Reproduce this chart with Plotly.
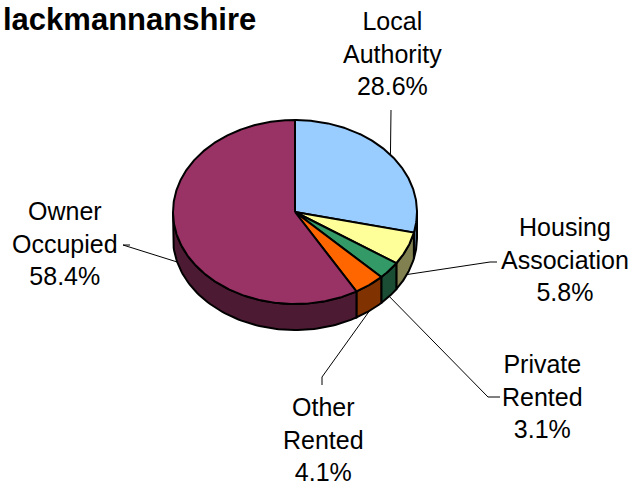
import numpy as np
import plotly.graph_objects as go

# ---- data ----
categories = ["Local Authority", "Housing Association", "Private Rented", "Other Rented", "Owner Occupied"]
label_lines = ["Local<br>Authority", "Housing<br>Association", "Private<br>Rented", "Other<br>Rented", "Owner<br>Occupied"]
values = [28.6, 5.8, 3.1, 4.1, 58.4]
title_text = "lackmannanshire"

# ---- styles / layout ----
top_colors = ["#99CCFF", "#FFFF99", "#339966", "#FF6600", "#993366"]
side_colors = ["#4D6680", "#808050", "#1A4D33", "#803300", "#4D1A33"]
W, H = 637, 489
CX, CY, RX, RY, DEPTH = 295, 212, 122, 92, 26
label_pos = [(392, 53), (565, 259), (542, 396), (323, 439), (65, 243)]
label_elbows = [[(391, 110)], [(497, 262), (490, 262)], [(500, 397), (488, 397)],
                [(322, 385), (322, 377)], [(130, 245), (123, 245)]]
FONT = "Liberation Sans, Arial, sans-serif"


def ell(a_deg, dy=0.0):
    a = np.radians(a_deg)
    return CX + RX * np.sin(a), CY - RY * np.cos(a) + dy


total = float(sum(values))
bounds = np.concatenate([[0.0], np.cumsum(values)]) / total * 360.0

fig = go.Figure()

# side walls (front half only: 90..270 deg)
for i in range(len(values)):
    a1, a2 = bounds[i], bounds[i + 1]
    s1, s2 = max(a1, 90.0), min(a2, 270.0)
    if s2 <= s1:
        continue
    ang = np.linspace(s1, s2, 80)
    xt, yt = ell(ang)
    xb, yb = ell(ang[::-1], DEPTH)
    xs = np.concatenate([xt, xb, xt[:1]])
    ys = np.concatenate([yt, yb, yt[:1]])
    fig.add_trace(go.Scatter(x=xs, y=ys, mode="lines", fill="toself",
                             fillcolor=side_colors[i],
                             line=dict(color="black", width=2),
                             hoverinfo="skip", showlegend=False))

# top faces
for i in range(len(values)):
    a1, a2 = bounds[i], bounds[i + 1]
    ang = np.linspace(a1, a2, max(10, int((a2 - a1) * 2)))
    xa, ya = ell(ang)
    xs = np.concatenate([[CX], xa, [CX]])
    ys = np.concatenate([[CY], ya, [CY]])
    fig.add_trace(go.Scatter(x=xs, y=ys, mode="lines", fill="toself",
                             fillcolor=top_colors[i],
                             line=dict(color="black", width=2),
                             hoverinfo="skip", showlegend=False,
                             name=categories[i]))

# leader lines + labels
annotations = []
for i in range(len(values)):
    mid = (bounds[i] + bounds[i + 1]) / 2.0
    dy = DEPTH if np.cos(np.radians(mid)) < 0 else 0.0
    px, py = ell(mid, dy)
    pts = label_elbows[i] + [(px, py)]
    fig.add_trace(go.Scatter(x=[p[0] for p in pts], y=[p[1] for p in pts],
                             mode="lines", line=dict(color="black", width=1),
                             hoverinfo="skip", showlegend=False))
    lx, ly = label_pos[i]
    annotations.append(dict(x=lx, y=ly, xref="x", yref="y",
                            text=f"{label_lines[i]}<br>{values[i]:.1f}%",
                            showarrow=False, xanchor="center", yanchor="middle",
                            align="center",
                            font=dict(family=FONT, size=25, color="black")))

annotations.append(dict(x=1, y=19, xref="x", yref="y", text=f"<b>{title_text}</b>",
                        showarrow=False, xanchor="left", yanchor="middle",
                        font=dict(family=FONT, size=31, color="black")))

fig.update_layout(
    width=W, height=H,
    margin=dict(l=0, r=0, t=0, b=0),
    paper_bgcolor="white", plot_bgcolor="white",
    xaxis=dict(range=[0, W], visible=False, fixedrange=True),
    yaxis=dict(range=[H, 0], visible=False, fixedrange=True),
    annotations=annotations,
    showlegend=False,
)

fig.write_html("out.html", config={"displayModeBar": False},
               post_script="document.body.style.margin='0';document.body.style.overflow='hidden';")
